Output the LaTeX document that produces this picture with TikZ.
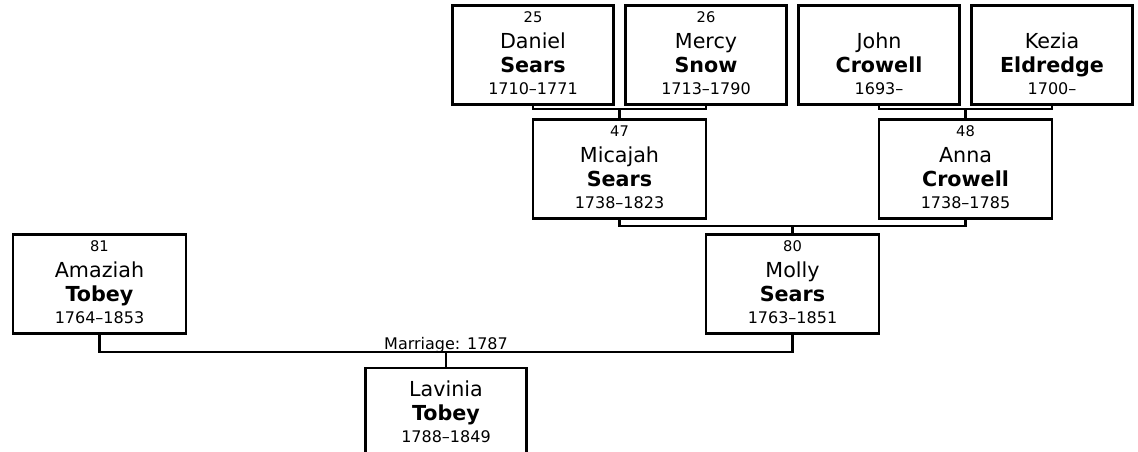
\documentclass[tikz,border=0pt]{standalone}
\usepackage{fontspec}
\setmainfont{DejaVu Sans}
\usetikzlibrary{positioning,calc}
\newcommand{\numfont}{\fontsize{11}{13}\selectfont}
\newcommand{\datefont}{\fontsize{12}{14}\selectfont}
\newcommand{\who}[4]{{\numfont\vphantom{0}#1}\\[1.5pt]#2\\\textbf{#3}\\[-1.5pt]{\datefont #4\rule[-2.8pt]{0pt}{2.8pt}}}

\begin{document}
\begin{tikzpicture}[
  x=0.75pt, y=-0.75pt,
  node distance=7.4pt,
  person/.style={draw, line width=1.6pt, align=center, inner sep=0pt,
                 minimum height=74.25pt, font=\fontsize{15.5}{18}\selectfont},
  parent/.style={person, minimum width=120.75pt},
  child/.style={person, minimum width=130pt},
  link/.style={draw, line width=1.6pt},
  marr/.style={anchor=base, yshift=1.5pt, inner sep=0pt, font=\fontsize{12}{14}\selectfont}
]
  \useasboundingbox (0,0) rectangle (1138,452);
  \clip (0,0) rectangle (1138,452);

  % grandparents
  \node[parent] (daniel) at (533,55) {\who{25}{Daniel}{Sears}{1710–1771}};
  \node[parent, right=of daniel] (mercy) {\who{26}{Mercy}{Snow}{1713–1790}};
  \node[parent, right=of mercy] (john) {\who{}{John}{Crowell}{1693–}};
  \node[parent, right=of john] (kezia) {\who{}{Kezia}{Eldredge}{1700–}};

  % parents
  \node[child] (micajah) at (619.5,169) {\who{47}{Micajah}{Sears}{1738–1823}};
  \node[child] (anna) at (965.5,169) {\who{48}{Anna}{Crowell}{1738–1785}};
  \node[child] (amaziah) at (99.5,284) {\who{81}{Amaziah}{Tobey}{1764–1853}};
  \node[child] (molly) at (792.5,284) {\who{80}{Molly}{Sears}{1763–1851}};

  \node[parent, minimum height=68pt] (lavinia) at (446,413.3)
    {Lavinia\\\textbf{Tobey}\\[-1.5pt]{\datefont 1788–1849\rule[-2.8pt]{0pt}{2.8pt}}};

  \draw[link] (daniel.south) |- ([yshift=6.75pt]micajah.north) -| (mercy.south);
  \draw[link] (micajah.north) -- ([yshift=6.75pt]micajah.north);
  \draw[link] (john.south) |- ([yshift=6.75pt]anna.north) -| (kezia.south);
  \draw[link] (anna.north) -- ([yshift=6.75pt]anna.north);
  \draw[link] (micajah.south) |- ([yshift=5.25pt]molly.north) -| (anna.south);
  \draw[link] (molly.north) -- ([yshift=5.25pt]molly.north);
  \draw[link] (amaziah.south) |- ([yshift=11.25pt]lavinia.north)
    node[marr] (wed) {Marriage: 1787} -| (molly.south);
  \draw[link] (lavinia.north) -- ([yshift=11.25pt]lavinia.north);
\end{tikzpicture}
\end{document}
